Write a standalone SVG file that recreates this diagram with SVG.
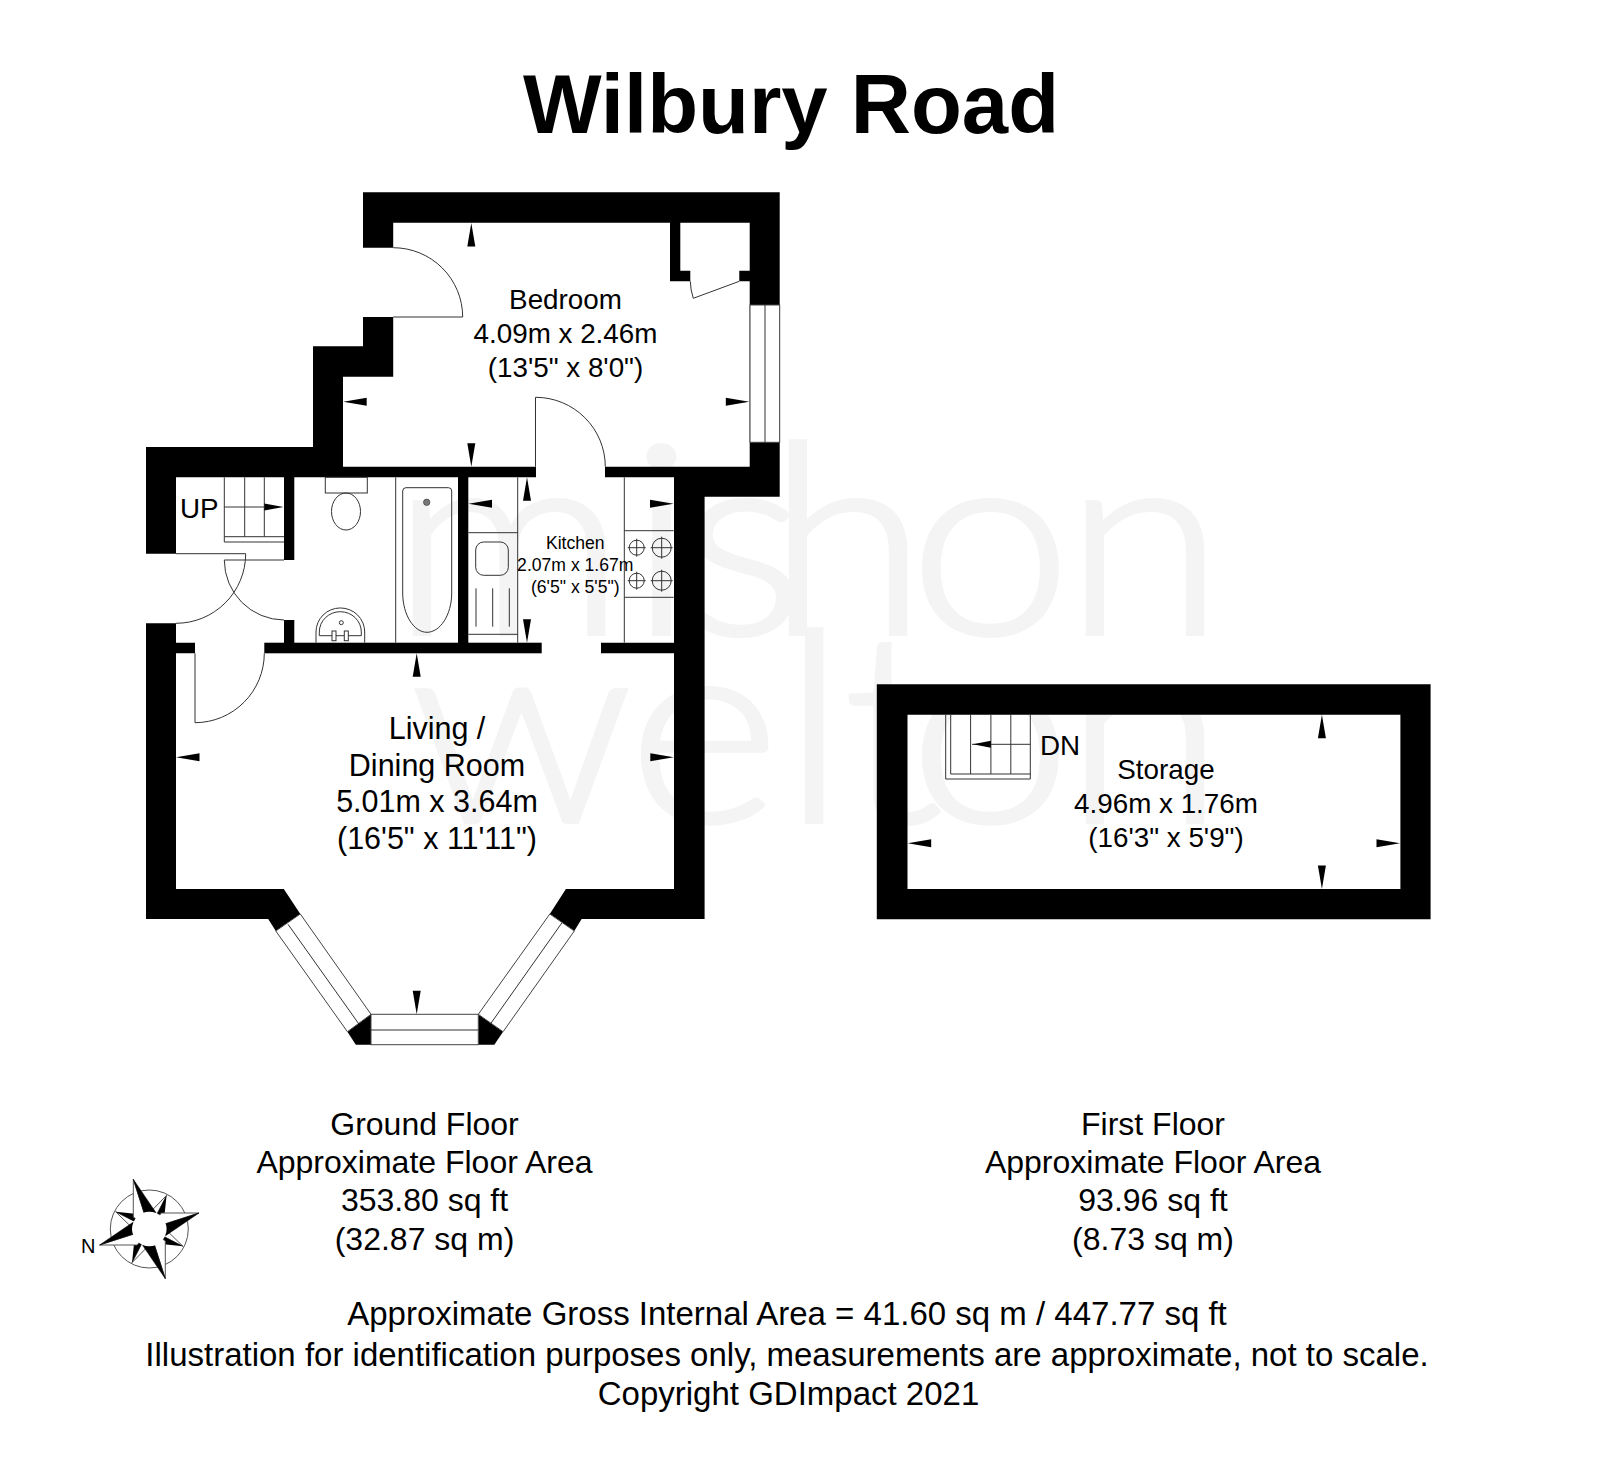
<svg xmlns="http://www.w3.org/2000/svg" width="1600" height="1482" viewBox="0 0 1600 1482">
<style>
text{font-family:"Liberation Sans",Arial,sans-serif;fill:#000}
.c{text-anchor:middle}
#watermark text{font-family:Lato,"Open Sans",sans-serif;font-weight:300;font-size:265px;fill:#f5f4f5;stroke:#f5f4f5;stroke-width:4}
.r{font-size:27.8px}.l{font-size:30.5px}.k{font-size:17.6px}.f{font-size:32px}.n{font-size:33px}
.w{fill:#000}
.t{fill:none;stroke:#333;stroke-width:1}
.g{fill:#fff;stroke:#444;stroke-width:1}
</style>
<defs>
<path id="au" class="w" d="M0 0L4 23.5H-4Z"/>
<path id="ad" class="w" d="M0 0L4 -23.5H-4Z"/>
<path id="al" class="w" d="M0 0L23.5 -4V4Z"/>
<path id="ar" class="w" d="M0 0L-23.5 -4V4Z"/>
<g id="long"><path d="M-16 -49.7L-16 -12L0 0Z" fill="#fff" stroke="#555" stroke-width="1"/><path d="M-16 -49.7L6.7 -16.3L0 0Z" fill="#000" stroke="#000" stroke-width=".5"/></g>
<g id="short"><path d="M17.3 -33.7L4 -20L0 0Z" fill="#fff" stroke="#555" stroke-width="1"/><path d="M17.3 -33.7L15 -12L0 0Z" fill="#000"/></g>
<g id="hob1"><circle r="7.5" class="t"/><path class="t" d="M-9 0H9M0 -9V9"/></g>
<g id="hob2"><circle r="9.5" class="t"/><path class="t" d="M-11 0H11M0 -11V11"/></g>
</defs>
<rect width="1600" height="1482" fill="#fff"/>
<g id="watermark" transform="scale(1.1 1)">
<text x="355.5 571.8 619.1 697.3 826.4 967.3" y="634">mishon</text>
<text x="372.7 570.9 710.9 766.4 826.4 967.3" y="822">welton</text>
</g>
<text id="title" class="c" x="791" y="133" font-size="83.3" font-weight="700">Wilbury Road</text>

<g id="ground-floor-walls">
<path class="w" d="M363 192.3H779.7V496.7H704.6V919H581.6L574.3 931L549.8 914L565.9 889H674V653.3H601V642.7H674V477.3H605V466.7H749.7V442.3H779.7V442.3H749.7V281.3H739.3V270.7H749.7V222.7H680.3V270.7H690.3V281.3H670V222.7H393.2V247.7H363Z"/>
<path class="w" d="M363 317H393.2V376.7H343V466.7H536V477.3H176V553.7H146V447H313V346.3H363Z"/>
<rect class="w" x="284" y="477" width="10.3" height="83"/>
<rect class="w" x="284" y="620" width="10.3" height="25"/>
<rect class="w" x="458" y="477" width="10.3" height="167"/>
<path class="w" d="M146 623.3H176V642.7H195V653.3H176V889H283.8L300.3 914L275.8 931L268.2 919H146Z"/>
<rect class="w" x="264.3" y="642.7" width="277.4" height="10.6"/>
<path class="w" d="M347.4 1031.7L371 1014.3V1044.7H355.8Z"/>
<path class="w" d="M478.3 1014.3L503.1 1031.7L494.3 1044.7H478.3Z"/>
</g>
<g id="windows">
<rect class="g" x="750" y="305" width="29.7" height="137.3"/><path class="t" d="M765 305V442.3"/>
<path class="g" d="M275.8 931L300.3 914L371 1014.3L347.4 1031.7Z"/><path class="t" d="M288 924.3L358.9 1024"/>
<rect class="g" x="371" y="1014.3" width="107.3" height="30.4"/><path class="t" d="M371 1030H478.3"/>
<path class="g" d="M549.8 914L574.3 931L503.1 1031.7L478.3 1014.3Z"/><path class="t" d="M562 922.7L490.9 1023.3"/>
</g>
<g id="doors">
<path class="t" d="M393.2 247.7A69.5 69.5 0 0 1 462.7 317H393.2"/>
<path class="t" d="M535.5 466.7V397.3A69.8 69.5 0 0 1 605.3 466.7"/>
<path class="t" d="M739.3 281.3L693.3 298.3Q690.5 290 690.3 281.3"/>
<path class="t" d="M176 553.7H245.7A69.7 69.7 0 0 1 176 623.3"/>
<path class="t" d="M284 560H224.3A60 60 0 0 0 284 620"/>
<path class="t" d="M264.3 653.3A69.5 69.5 0 0 1 195 722.7V653.3"/>
</g>
<g id="stairs-up">
<path class="t" d="M224.3 477.3V542H284M244.7 477.3V536.7M264.3 477.3V536.7M224.3 536.7H284M224.3 507H264"/>
<path class="w" d="M283.5 507L264.3 503.5V510.5Z"/>
</g>
<g id="toilet">
<rect class="t" x="325.3" y="477.3" width="42" height="15.7"/>
<ellipse class="t" cx="346" cy="511.5" rx="14.5" ry="18.5"/>
</g>
<g id="basin">
<path class="t" d="M316 642.7V632A24.3 24 0 0 1 364.7 632V642.7"/>
<path class="t" d="M319.3 635.7V632A21 20.3 0 0 1 361.3 632V635.7H348M344 635.7H336M332 635.7H319.3"/>
<rect class="t" x="332" y="631" width="4" height="9.7"/><rect class="t" x="344.3" y="631" width="4" height="9.7"/>
<circle class="t" cx="341.3" cy="622.7" r="2"/>
</g>
<g id="bath">
<path class="t" d="M395.7 477.3V642.7"/>
<path class="t" d="M402.7 491Q402.7 487.7 406 487.7H448.5Q451.7 487.7 451.7 491V593C451.7 615 440 632.3 427 632.3C414 632.3 402.7 615 402.7 593Z"/>
<circle cx="426.7" cy="502.3" r="3.2" fill="#777" stroke="#333" stroke-width=".6"/>
</g>
<g id="kitchen-fittings">
<path class="t" d="M517.7 477.3V642.7M468.3 532.7H517.7M468.3 634.3H517.7"/>
<rect class="t" x="475.7" y="542" width="32.6" height="33.3" rx="8"/>
<path class="t" d="M476 588.3V626.7M492.7 588.3V626.7M509.3 588.3V626.7"/>
<path class="t" d="M624.3 477.3V642.7M624.3 530.7H673.7M624.3 597.3H673.7"/>
<use href="#hob1" x="636.7" y="547.7"/><use href="#hob2" x="661.7" y="547.7"/>
<use href="#hob1" x="636.7" y="580.7"/><use href="#hob2" x="661.7" y="580.7"/>
</g>
<g id="first-floor-walls">
<path class="w" fill-rule="evenodd" d="M876.8 684.3H1430.6V919.3H876.8ZM907.5 714.7V889H1400.4V714.7Z"/>
</g>
<g id="stairs-down">
<path class="t" d="M945.7 714.7V779H1030.3V714.7M950.7 714.7V774H1030.3M970.6 714.7V774M990.9 714.7V774M1010.8 714.7V774M972 744.3H1030.3"/>
<path class="w" d="M972.9 744.3L990.9 740.8V747.8Z"/>
</g>
<g id="dimension-arrows">
<use href="#au" x="471.3" y="223"/><use href="#ad" x="471.3" y="466.7"/><use href="#al" x="343.2" y="401.7"/><use href="#ar" x="749.3" y="401.7"/>
<use href="#au" x="527" y="477.3"/><use href="#ad" x="527" y="642.7"/><use href="#al" x="468.5" y="503.7"/><use href="#ar" x="673.5" y="503.7"/>
<use href="#au" x="416.7" y="653.3"/><use href="#ad" x="416.7" y="1014.3"/><use href="#al" x="176" y="757.3"/><use href="#ar" x="673.8" y="757.3"/>
<use href="#au" x="1321.9" y="714.7"/><use href="#ad" x="1321.9" y="889"/><use href="#al" x="907.7" y="843.3"/><use href="#ar" x="1400" y="843.3"/>
</g>
<g id="labels">
<g class="r"><text class="c" x="565.5" y="309.3">Bedroom</text><text class="c" x="565.5" y="342.7">4.09m x 2.46m</text><text class="c" x="565.5" y="376.7">(13'5" x 8'0")</text></g>
<g class="k"><text class="c" x="575.3" y="548.7">Kitchen</text><text class="c" x="575.3" y="570.7">2.07m x 1.67m</text><text class="c" x="575.3" y="593">(6'5" x 5'5")</text></g>
<g class="l"><text class="c" x="437" y="739.3">Living /</text><text class="c" x="437" y="776">Dining Room</text><text class="c" x="437" y="812">5.01m x 3.64m</text><text class="c" x="437" y="848.7">(16'5" x 11'11")</text></g>
<g class="r"><text class="c" x="1166" y="779.3">Storage</text><text class="c" x="1166" y="812.7">4.96m x 1.76m</text><text class="c" x="1166" y="846.7">(16'3" x 5'9")</text></g>
<text class="r" x="180" y="518.3">UP</text>
<text class="r" x="1040" y="755">DN</text>
</g>
<g id="floor-areas" class="f">
<text class="c" x="424.5" y="1135">Ground Floor</text><text class="c" x="424.5" y="1172.5">Approximate Floor Area</text><text class="c" x="424.5" y="1210.5">353.80 sq ft</text><text class="c" x="424.5" y="1250">(32.87 sq m)</text>
<text class="c" x="1153" y="1135">First Floor</text><text class="c" x="1153" y="1172.5">Approximate Floor Area</text><text class="c" x="1153" y="1210.5">93.96 sq ft</text><text class="c" x="1153" y="1250">(8.73 sq m)</text>
</g>
<g id="notes" class="n">
<text class="c" x="787" y="1325">Approximate Gross Internal Area = 41.60 sq m / 447.77 sq ft</text>
<text class="c" x="787" y="1366">Illustration for identification purposes only, measurements are approximate, not to scale.</text>
<text class="c" x="788.5" y="1405">Copyright GDImpact 2021</text>
</g>
<g id="compass">
<circle cx="149.3" cy="1229" r="39" fill="#fff" stroke="#555" stroke-width="1"/>
<g transform="translate(149.3 1229)">
<use href="#short"/><use href="#short" transform="rotate(90)"/><use href="#short" transform="rotate(180)"/><use href="#short" transform="rotate(270)"/>
<use href="#long"/><use href="#long" transform="rotate(90)"/><use href="#long" transform="rotate(180)"/><use href="#long" transform="rotate(270)"/>
<circle r="17.3" fill="#fff"/>
</g>
<text x="81" y="1253.3" font-size="20">N</text>
</g>
</svg>
